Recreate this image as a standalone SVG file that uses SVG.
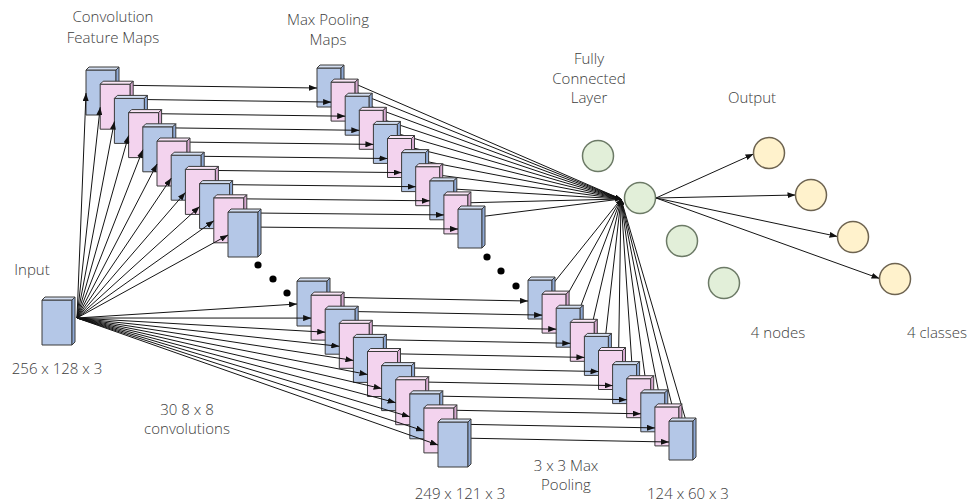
<svg xmlns="http://www.w3.org/2000/svg" xmlns:xlink="http://www.w3.org/1999/xlink" width="970" height="504" viewBox="0 0 970 504">
  <style>
    .lbl { font-family: "Open Sans", "Noto Sans", "DejaVu Sans", sans-serif; font-size: 15px; font-weight: 300; fill: #3c3c3c; text-anchor: middle; }
    .ln { stroke: #141414; stroke-width: 1; fill: none; }
    .arr { marker-end: url(#ah); }
    .fcl { marker-end: url(#ahs); }
    .fc { fill: #e2efd9; stroke: #6c7a66; stroke-width: 1.5; }
    .out { fill: #fff2cc; stroke: #6d6350; stroke-width: 1.5; }
    .dot { fill: #000; }
  </style>
  <defs>
    <marker id="ah" viewBox="0 0 8 6" markerWidth="8" markerHeight="6" refX="8" refY="3" orient="auto" markerUnits="userSpaceOnUse">
      <path d="M0,0 L8,3 L0,6 z" fill="#111"/>
    </marker>
    <marker id="ahs" viewBox="0 0 6 4" markerWidth="6" markerHeight="4" refX="6" refY="2" orient="auto" markerUnits="userSpaceOnUse">
      <path d="M0,0 L6,2 L0,4 z" fill="#111"/>
    </marker>
    <!-- feature-map blocks: front face, top face, side face -->
    <g id="convBlue" stroke="#3a3a3a" stroke-width="1" stroke-linejoin="round">
      <rect width="30" height="45" fill="#b4c7e7"/>
      <polygon points="0,0 3,-3 33,-3 30,0" fill="#d3def1"/>
      <polygon points="30,0 33,-3 33,42 30,45" fill="#8ea9d6"/>
    </g>
    <g id="convPink" stroke="#3a3a3a" stroke-width="1" stroke-linejoin="round">
      <rect width="30" height="45" fill="#f3d3ee"/>
      <polygon points="0,0 3,-3 33,-3 30,0" fill="#f9e5f6"/>
      <polygon points="30,0 33,-3 33,42 30,45" fill="#d6a8d0"/>
    </g>
    <g id="poolBlue" stroke="#3a3a3a" stroke-width="1" stroke-linejoin="round">
      <rect width="24" height="39" fill="#b4c7e7"/>
      <polygon points="0,0 3,-3 27,-3 24,0" fill="#d3def1"/>
      <polygon points="24,0 27,-3 27,36 24,39" fill="#8ea9d6"/>
    </g>
    <g id="poolPink" stroke="#3a3a3a" stroke-width="1" stroke-linejoin="round">
      <rect width="24" height="39" fill="#f3d3ee"/>
      <polygon points="0,0 3,-3 27,-3 24,0" fill="#f9e5f6"/>
      <polygon points="24,0 27,-3 27,36 24,39" fill="#d6a8d0"/>
    </g>
  </defs>

  <rect width="970" height="504" fill="#ffffff"/>

  <!-- pooled maps feeding the fully connected layer (drawn beneath the pooled maps) -->
  <g id="connectors-fc" class="ln">
    <line class="fcl" x1="337" y1="76" x2="621" y2="199"/>
    <line class="fcl" x1="351.1" y1="90.1" x2="621" y2="199"/>
    <line class="fcl" x1="365.2" y1="104.2" x2="621" y2="199"/>
    <line class="fcl" x1="379.3" y1="118.3" x2="621" y2="199"/>
    <line class="fcl" x1="393.4" y1="132.4" x2="621" y2="199"/>
    <line class="fcl" x1="407.5" y1="146.5" x2="621" y2="199"/>
    <line class="fcl" x1="421.6" y1="160.6" x2="621" y2="199"/>
    <line class="fcl" x1="435.7" y1="174.7" x2="621" y2="199"/>
    <line class="fcl" x1="449.8" y1="188.8" x2="621" y2="199"/>
    <line class="fcl" x1="463.9" y1="202.9" x2="621" y2="199"/>
    <line class="fcl" x1="478" y1="217" x2="621" y2="199"/>
    <line class="fcl" x1="548" y1="290" x2="621" y2="199"/>
    <line class="fcl" x1="562.1" y1="304.1" x2="621" y2="199"/>
    <line class="fcl" x1="576.2" y1="318.2" x2="621" y2="199"/>
    <line class="fcl" x1="590.3" y1="332.3" x2="621" y2="199"/>
    <line class="fcl" x1="604.4" y1="346.4" x2="621" y2="199"/>
    <line class="fcl" x1="618.5" y1="360.5" x2="621" y2="199"/>
    <line class="fcl" x1="632.6" y1="374.6" x2="621" y2="199"/>
    <line class="fcl" x1="646.7" y1="388.7" x2="621" y2="199"/>
    <line class="fcl" x1="660.8" y1="402.8" x2="621" y2="199"/>
    <line class="fcl" x1="674.9" y1="416.9" x2="621" y2="199"/>
    <line class="fcl" x1="689" y1="431" x2="621" y2="199"/>
  </g>

  <!-- max pooling maps, upper stack -->
  <g id="pool-top">
    <g id="pool-top-1" transform="translate(317,68)"><use href="#poolBlue"/></g>
    <g id="pool-top-2" transform="translate(331.1,82.1)"><use href="#poolPink"/></g>
    <g id="pool-top-3" transform="translate(345.2,96.2)"><use href="#poolBlue"/></g>
    <g id="pool-top-4" transform="translate(359.3,110.3)"><use href="#poolPink"/></g>
    <g id="pool-top-5" transform="translate(373.4,124.4)"><use href="#poolBlue"/></g>
    <g id="pool-top-6" transform="translate(387.5,138.5)"><use href="#poolPink"/></g>
    <g id="pool-top-7" transform="translate(401.6,152.6)"><use href="#poolBlue"/></g>
    <g id="pool-top-8" transform="translate(415.7,166.7)"><use href="#poolPink"/></g>
    <g id="pool-top-9" transform="translate(429.8,180.8)"><use href="#poolBlue"/></g>
    <g id="pool-top-10" transform="translate(443.9,194.9)"><use href="#poolPink"/></g>
    <g id="pool-top-11" transform="translate(458,209)"><use href="#poolBlue"/></g>
  </g>

  <!-- max pooling maps, lower stack -->
  <g id="pool-bottom">
    <g id="pool-bot-1" transform="translate(528,280)"><use href="#poolBlue"/></g>
    <g id="pool-bot-2" transform="translate(542.1,294.1)"><use href="#poolPink"/></g>
    <g id="pool-bot-3" transform="translate(556.2,308.2)"><use href="#poolBlue"/></g>
    <g id="pool-bot-4" transform="translate(570.3,322.3)"><use href="#poolPink"/></g>
    <g id="pool-bot-5" transform="translate(584.4,336.4)"><use href="#poolBlue"/></g>
    <g id="pool-bot-6" transform="translate(598.5,350.5)"><use href="#poolPink"/></g>
    <g id="pool-bot-7" transform="translate(612.6,364.6)"><use href="#poolBlue"/></g>
    <g id="pool-bot-8" transform="translate(626.7,378.7)"><use href="#poolPink"/></g>
    <g id="pool-bot-9" transform="translate(640.8,392.8)"><use href="#poolBlue"/></g>
    <g id="pool-bot-10" transform="translate(654.9,406.9)"><use href="#poolPink"/></g>
    <g id="pool-bot-11" transform="translate(669,421)"><use href="#poolBlue"/></g>
  </g>

  <!-- feature map to pooled map arrows -->
  <g id="connectors-pool" class="ln">
    <line class="arr" x1="106" y1="85" x2="317" y2="88"/>
    <line class="arr" x1="120.2" y1="99.2" x2="331.1" y2="102.1"/>
    <line class="arr" x1="134.4" y1="113.4" x2="345.2" y2="116.2"/>
    <line class="arr" x1="148.6" y1="127.6" x2="359.3" y2="130.3"/>
    <line class="arr" x1="162.8" y1="141.8" x2="373.4" y2="144.4"/>
    <line class="arr" x1="177" y1="156" x2="387.5" y2="158.5"/>
    <line class="arr" x1="191.2" y1="170.2" x2="401.6" y2="172.6"/>
    <line class="arr" x1="205.4" y1="184.4" x2="415.7" y2="186.7"/>
    <line class="arr" x1="219.6" y1="198.6" x2="429.8" y2="200.8"/>
    <line class="arr" x1="233.8" y1="212.8" x2="443.9" y2="214.9"/>
    <line class="arr" x1="248" y1="227" x2="458" y2="229"/>
    <line class="arr" x1="317" y1="297" x2="528" y2="301"/>
    <line class="arr" x1="331.1" y1="311.1" x2="542.1" y2="315.1"/>
    <line class="arr" x1="345.2" y1="325.2" x2="556.2" y2="329.2"/>
    <line class="arr" x1="359.3" y1="339.3" x2="570.3" y2="343.3"/>
    <line class="arr" x1="373.4" y1="353.4" x2="584.4" y2="357.4"/>
    <line class="arr" x1="387.5" y1="367.5" x2="598.5" y2="371.5"/>
    <line class="arr" x1="401.6" y1="381.6" x2="612.6" y2="385.6"/>
    <line class="arr" x1="415.7" y1="395.7" x2="626.7" y2="399.7"/>
    <line class="arr" x1="429.8" y1="409.8" x2="640.8" y2="413.8"/>
    <line class="arr" x1="443.9" y1="423.9" x2="654.9" y2="427.9"/>
    <line class="arr" x1="458" y1="438" x2="669" y2="442"/>
  </g>

  <!-- convolution feature maps, upper stack -->
  <g id="conv-top">
    <g id="conv-top-1" transform="translate(86,70)"><use href="#convBlue"/></g>
    <g id="conv-top-2" transform="translate(100.2,84.2)"><use href="#convPink"/></g>
    <g id="conv-top-3" transform="translate(114.4,98.4)"><use href="#convBlue"/></g>
    <g id="conv-top-4" transform="translate(128.6,112.6)"><use href="#convPink"/></g>
    <g id="conv-top-5" transform="translate(142.8,126.8)"><use href="#convBlue"/></g>
    <g id="conv-top-6" transform="translate(157,141)"><use href="#convPink"/></g>
    <g id="conv-top-7" transform="translate(171.2,155.2)"><use href="#convBlue"/></g>
    <g id="conv-top-8" transform="translate(185.4,169.4)"><use href="#convPink"/></g>
    <g id="conv-top-9" transform="translate(199.6,183.6)"><use href="#convBlue"/></g>
    <g id="conv-top-10" transform="translate(213.8,197.8)"><use href="#convPink"/></g>
    <g id="conv-top-11" transform="translate(228,212)"><use href="#convBlue"/></g>
  </g>

  <!-- convolution feature maps, lower stack -->
  <g id="conv-bottom">
    <g id="conv-bot-1" transform="translate(297,281)"><use href="#convBlue"/></g>
    <g id="conv-bot-2" transform="translate(311.1,295.1)"><use href="#convPink"/></g>
    <g id="conv-bot-3" transform="translate(325.2,309.2)"><use href="#convBlue"/></g>
    <g id="conv-bot-4" transform="translate(339.3,323.3)"><use href="#convPink"/></g>
    <g id="conv-bot-5" transform="translate(353.4,337.4)"><use href="#convBlue"/></g>
    <g id="conv-bot-6" transform="translate(367.5,351.5)"><use href="#convPink"/></g>
    <g id="conv-bot-7" transform="translate(381.6,365.6)"><use href="#convBlue"/></g>
    <g id="conv-bot-8" transform="translate(395.7,379.7)"><use href="#convPink"/></g>
    <g id="conv-bot-9" transform="translate(409.8,393.8)"><use href="#convBlue"/></g>
    <g id="conv-bot-10" transform="translate(423.9,407.9)"><use href="#convPink"/></g>
    <g id="conv-bot-11" transform="translate(438,422)"><use href="#convBlue"/></g>
  </g>

  <!-- input image block -->
  <g id="input" transform="translate(42,300)"><use href="#convBlue"/></g>

  <!-- input to feature map arrows -->
  <g id="connectors-conv" class="ln">
    <line class="arr" x1="77" y1="318" x2="86" y2="93"/>
    <line class="arr" x1="77" y1="318" x2="100.2" y2="107.2"/>
    <line class="arr" x1="77" y1="318" x2="114.4" y2="121.4"/>
    <line class="arr" x1="77" y1="318" x2="128.6" y2="135.6"/>
    <line class="arr" x1="77" y1="318" x2="142.8" y2="149.8"/>
    <line class="arr" x1="77" y1="318" x2="157" y2="164"/>
    <line class="arr" x1="77" y1="318" x2="171.2" y2="178.2"/>
    <line class="arr" x1="77" y1="318" x2="185.4" y2="192.4"/>
    <line class="arr" x1="77" y1="318" x2="199.6" y2="206.6"/>
    <line class="arr" x1="77" y1="318" x2="213.8" y2="220.8"/>
    <line class="arr" x1="77" y1="318" x2="228" y2="235"/>
    <line class="arr" x1="77" y1="318" x2="297" y2="304"/>
    <line class="arr" x1="77" y1="318" x2="311.1" y2="318.1"/>
    <line class="arr" x1="77" y1="318" x2="325.2" y2="332.2"/>
    <line class="arr" x1="77" y1="318" x2="339.3" y2="346.3"/>
    <line class="arr" x1="77" y1="318" x2="353.4" y2="360.4"/>
    <line class="arr" x1="77" y1="318" x2="367.5" y2="374.5"/>
    <line class="arr" x1="77" y1="318" x2="381.6" y2="388.6"/>
    <line class="arr" x1="77" y1="318" x2="395.7" y2="402.7"/>
    <line class="arr" x1="77" y1="318" x2="409.8" y2="416.8"/>
    <line class="arr" x1="77" y1="318" x2="423.9" y2="430.9"/>
    <line class="arr" x1="77" y1="318" x2="438" y2="445"/>
  </g>

  <!-- fully connected to output arrows -->
  <g id="connectors-out" class="ln">
    <line class="arr" x1="656" y1="198" x2="753.5" y2="154"/>
    <line class="arr" x1="656" y1="198" x2="795.5" y2="195"/>
    <line class="arr" x1="656" y1="198" x2="837.5" y2="236.5"/>
    <line class="arr" x1="656" y1="198" x2="879.5" y2="278.5"/>
  </g>

  <!-- ellipsis dots between the stacks -->
  <g id="ellipsis">
    <circle class="dot" cx="258" cy="265" r="3.6"/>
    <circle class="dot" cx="273" cy="279" r="3.6"/>
    <circle class="dot" cx="287" cy="293" r="3.6"/>
    <circle class="dot" cx="487" cy="257" r="3.6"/>
    <circle class="dot" cx="501" cy="271" r="3.6"/>
    <circle class="dot" cx="516" cy="286" r="3.6"/>
  </g>

  <!-- fully connected layer nodes -->
  <g id="fc-1"><circle class="fc" cx="598" cy="156" r="15.5"/></g>
  <g id="fc-2"><circle class="fc" cx="640" cy="198" r="15.5"/></g>
  <g id="fc-3"><circle class="fc" cx="682" cy="241" r="15.5"/></g>
  <g id="fc-4"><circle class="fc" cx="724" cy="283" r="15.5"/></g>

  <!-- output nodes -->
  <g id="out-1"><circle class="out" cx="769" cy="153" r="15.5"/></g>
  <g id="out-2"><circle class="out" cx="811" cy="195" r="15.5"/></g>
  <g id="out-3"><circle class="out" cx="853" cy="237" r="15.5"/></g>
  <g id="out-4"><circle class="out" cx="895" cy="279" r="15.5"/></g>

  <!-- labels -->
  <g id="labels">
    <text class="lbl" x="113" y="22">Convolution</text>
    <text class="lbl" x="113" y="43">Feature Maps</text>
    <text class="lbl" x="328" y="25">Max Pooling</text>
    <text class="lbl" x="328" y="45">Maps</text>
    <text class="lbl" x="589" y="64">Fully</text>
    <text class="lbl" x="589" y="84">Connected</text>
    <text class="lbl" x="589" y="103">Layer</text>
    <text class="lbl" x="752" y="103">Output</text>
    <text class="lbl" x="32" y="275">Input</text>
    <text class="lbl" x="57" y="374">256 x 128 x 3</text>
    <text class="lbl" x="187" y="415">30 8 x 8</text>
    <text class="lbl" x="187" y="434">convolutions</text>
    <text class="lbl" x="566" y="471">3 x 3 Max</text>
    <text class="lbl" x="566" y="490">Pooling</text>
    <text class="lbl" x="460" y="499">249 x 121 x 3</text>
    <text class="lbl" x="688" y="499">124 x 60 x 3</text>
    <text class="lbl" x="778" y="338">4 nodes</text>
    <text class="lbl" x="937" y="338">4 classes</text>
  </g>
</svg>
